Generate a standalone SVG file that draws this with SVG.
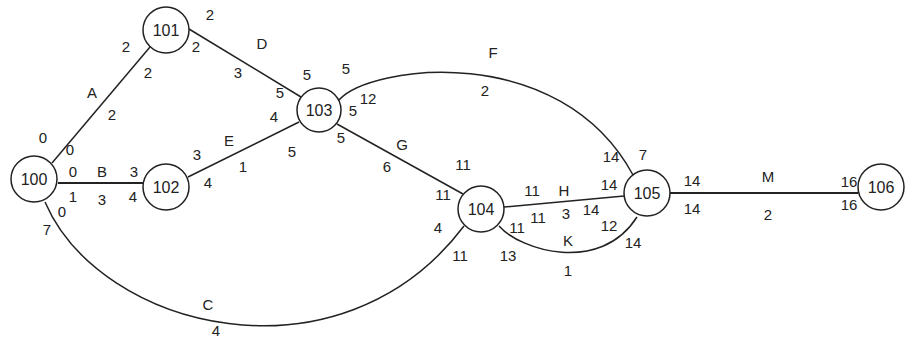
<svg xmlns="http://www.w3.org/2000/svg" width="910" height="339" viewBox="0 0 910 339">
<style>
.n circle{fill:#fff;stroke:#222;stroke-width:1.5}
.n text{font-family:"Liberation Sans",Arial,sans-serif;font-size:16px;fill:#222;text-anchor:middle}
#edges path{fill:none;stroke:#222;stroke-width:1.5}
.l{font-family:"Liberation Sans",Arial,sans-serif;font-size:15px;fill:#222;text-anchor:middle}
</style>
<rect width="910" height="339" fill="#fff"/>
<g id="edges">
<path d="M52,163 L150,47"/>
<path d="M189,29 L301,97"/>
<path d="M188,177 L299,122"/>
<path d="M58,183 L143,183" style="stroke-width:2"/>
<path d="M45,202 C100,330 340,390 464,226"/>
<path d="M339,100 C370,65 560,40 633,175"/>
<path d="M337,124 L463,194"/>
<path d="M504,207 L624,196"/>
<path d="M499,226 C520,250 600,275 637,217"/>
<path d="M670,193 L858,193" style="stroke-width:2"/>
</g>
<g id="n100" class="n"><circle cx="34" cy="179" r="23"/><text x="34" y="185">100</text></g>
<g id="n101" class="n"><circle cx="166" cy="30" r="23"/><text x="166" y="36">101</text></g>
<g id="n102" class="n"><circle cx="166" cy="187" r="23"/><text x="166" y="193">102</text></g>
<g id="n103" class="n"><circle cx="319" cy="110" r="22"/><text x="319" y="116">103</text></g>
<g id="n104" class="n"><circle cx="481" cy="209" r="23"/><text x="481" y="215">104</text></g>
<g id="n105" class="n"><circle cx="647" cy="193" r="23"/><text x="647" y="199">105</text></g>
<g id="n106" class="n"><circle cx="881" cy="187" r="23"/><text x="881" y="193">106</text></g>
<g id="labels">
<text class="l" x="210" y="20">2</text>
<text class="l" x="126" y="52">2</text>
<text class="l" x="196" y="52">2</text>
<text class="l" x="148" y="78">2</text>
<text class="l" x="262" y="49">D</text>
<text class="l" x="238" y="78">3</text>
<text class="l" x="307" y="80">5</text>
<text class="l" x="346" y="74">5</text>
<text class="l" x="280" y="98">5</text>
<text class="l" x="274" y="122">4</text>
<text class="l" x="292" y="157">5</text>
<text class="l" x="92" y="98">A</text>
<text class="l" x="112" y="120">2</text>
<text class="l" x="43" y="143">0</text>
<text class="l" x="70" y="155">0</text>
<text class="l" x="229" y="146">E</text>
<text class="l" x="197" y="160">3</text>
<text class="l" x="243" y="172">1</text>
<text class="l" x="208" y="188">4</text>
<text class="l" x="73" y="177">0</text>
<text class="l" x="102" y="177">B</text>
<text class="l" x="134" y="177">3</text>
<text class="l" x="73" y="202">1</text>
<text class="l" x="102" y="205">3</text>
<text class="l" x="133" y="202">4</text>
<text class="l" x="62" y="217">0</text>
<text class="l" x="47" y="235">7</text>
<text class="l" x="208" y="310">C</text>
<text class="l" x="216" y="336">4</text>
<text class="l" x="368" y="104">12</text>
<text class="l" x="353" y="116">5</text>
<text class="l" x="341" y="143">5</text>
<text class="l" x="402" y="150">G</text>
<text class="l" x="387" y="172">6</text>
<text class="l" x="493" y="58">F</text>
<text class="l" x="485" y="96">2</text>
<text class="l" x="463" y="170">11</text>
<text class="l" x="443" y="200">11</text>
<text class="l" x="438" y="233">4</text>
<text class="l" x="460" y="261">11</text>
<text class="l" x="508" y="261">13</text>
<text class="l" x="532" y="196">11</text>
<text class="l" x="564" y="196">H</text>
<text class="l" x="609" y="190">14</text>
<text class="l" x="538" y="223">11</text>
<text class="l" x="517" y="233">11</text>
<text class="l" x="566" y="219">3</text>
<text class="l" x="591" y="215">14</text>
<text class="l" x="568" y="246">K</text>
<text class="l" x="609" y="231">12</text>
<text class="l" x="633" y="248">14</text>
<text class="l" x="568" y="276">1</text>
<text class="l" x="611" y="162">14</text>
<text class="l" x="643" y="160">7</text>
<text class="l" x="692" y="186">14</text>
<text class="l" x="768" y="182">M</text>
<text class="l" x="849" y="187">16</text>
<text class="l" x="692" y="214">14</text>
<text class="l" x="768" y="220">2</text>
<text class="l" x="849" y="210">16</text>
</g>
</svg>
